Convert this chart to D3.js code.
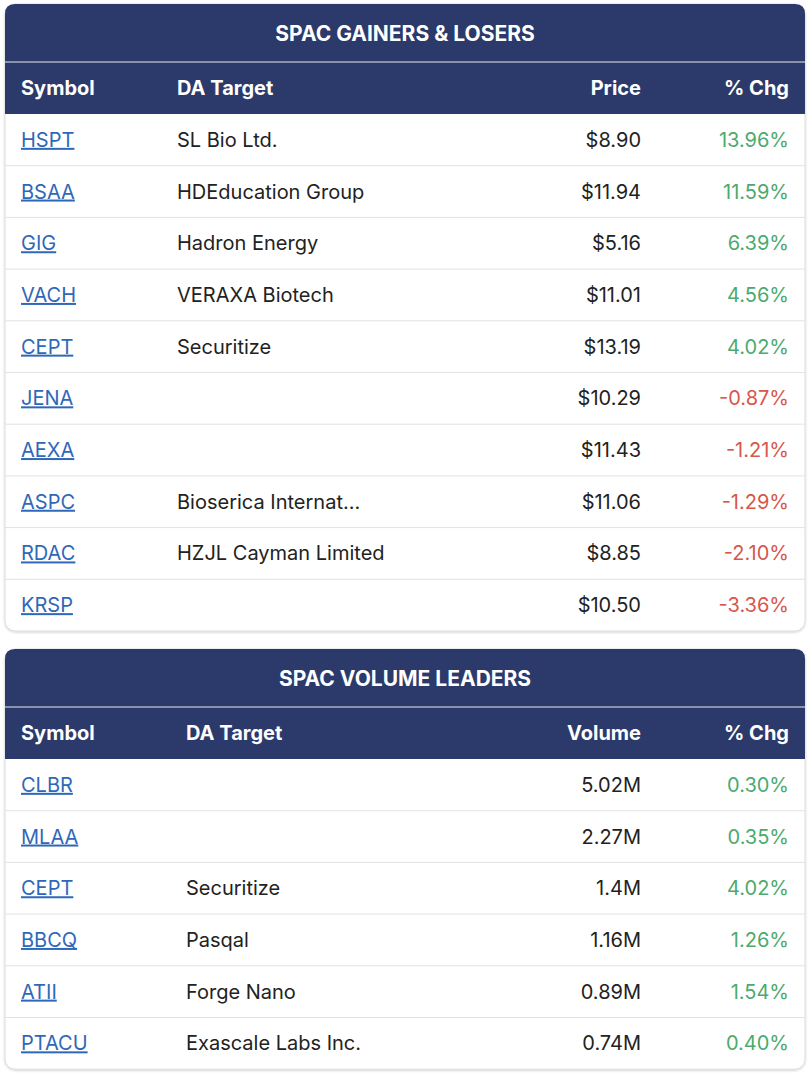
<!DOCTYPE html>
<html>
<head>
<meta charset="utf-8">
<script src="https://cdn.jsdelivr.net/npm/d3@7"></script>
<style>
  body { margin: 0; background: #fff; }
  svg { display: block; font-family: Inter, "Noto Sans", sans-serif; }
</style>
</head>
<body>
<svg></svg>
<script>
// gainers & losers
let gainSymbols = ['HSPT', 'BSAA', 'GIG', 'VACH', 'CEPT', 'JENA', 'AEXA', 'ASPC', 'RDAC', 'KRSP']
let gainTargets = ['SL Bio Ltd.', 'HDEducation Group', 'Hadron Energy', 'VERAXA Biotech', 'Securitize', '', '', 'Bioserica Internat...', 'HZJL Cayman Limited', '']
let gainPrices = [8.90, 11.94, 5.16, 11.01, 13.19, 10.29, 11.43, 11.06, 8.85, 10.50]
let gainChanges = [13.96, 11.59, 6.39, 4.56, 4.02, -0.87, -1.21, -1.29, -2.10, -3.36]

// volume leaders
let volSymbols = ['CLBR', 'MLAA', 'CEPT', 'BBCQ', 'ATII', 'PTACU']
let volTargets = ['', '', 'Securitize', 'Pasqal', 'Forge Nano', 'Exascale Labs Inc.']
let volVolumes = ['5.02M', '2.27M', '1.4M', '1.16M', '0.89M', '0.74M']
let volChanges = [0.30, 0.35, 4.02, 1.26, 1.54, 0.40]

let width = 810
let height = 1074
let left = 5
let right = 805
let titleH = 58
let headH = 52
let rowH = 51.7

let navy = '#2b3a6b'
let linkBlue = '#2f68b8'
let green = '#4caa6e'
let red = '#d6574b'

let svg = d3.select('svg').attr('width', width).attr('height', height)

let defs = svg.append('defs')
let shadow = defs.append('filter').attr('id', 'shadow').attr('x', '-5%').attr('y', '-5%').attr('width', '110%').attr('height', '110%')
shadow.append('feDropShadow').attr('dx', 0).attr('dy', 1).attr('stdDeviation', 1.2).attr('flood-color', '#000').attr('flood-opacity', 0.18)

drawTable = (top, title, cols, rows, id) => {
    let n = rows.length
    let bodyTop = top + titleH + headH
    let bottom = bodyTop + n * rowH

    let yScale = d3.scaleBand()
        .domain(d3.range(n))
        .range([bodyTop, bottom])

    let g = svg.append('g').attr('id', id)

    // card
    g.append('rect')
        .attr('x', left).attr('y', top)
        .attr('width', right - left).attr('height', bottom - top)
        .attr('rx', 10)
        .attr('fill', '#fff')
        .attr('stroke', '#dcdcdc')
        .attr('filter', 'url(#shadow)')

    // header band, rounded top only
    let r = 10
    g.append('path')
        .attr('d', 'M' + left + ',' + (bodyTop) + 'V' + (top + r) + 'Q' + left + ',' + top + ' ' + (left + r) + ',' + top +
            'H' + (right - r) + 'Q' + right + ',' + top + ' ' + right + ',' + (top + r) + 'V' + bodyTop + 'Z')
        .attr('fill', navy)

    g.append('line')
        .attr('x1', left).attr('x2', right)
        .attr('y1', top + titleH).attr('y2', top + titleH)
        .attr('stroke', '#e6e9f0').attr('stroke-width', 1)

    g.append('text')
        .attr('x', (left + right) / 2)
        .attr('y', top + titleH / 2 + 7.5)
        .attr('text-anchor', 'middle')
        .attr('fill', '#fff')
        .attr('font-size', 21)
        .attr('font-weight', 700)
        .text(title)

    g.selectAll('.colhead')
        .data(cols)
        .enter()
        .append('text')
        .attr('class', 'colhead')
        .attr('x', (c) => c.x)
        .attr('y', top + titleH + headH / 2 + 7)
        .attr('text-anchor', (c) => c.anchor)
        .attr('fill', '#fff')
        .attr('font-size', 20)
        .attr('font-weight', 700)
        .text((c) => c.name)

    // row separators
    g.selectAll('.sep')
        .data(d3.range(1, n))
        .enter()
        .append('line')
        .attr('class', 'sep')
        .attr('x1', left).attr('x2', right)
        .attr('y1', (i) => yScale(i)).attr('y2', (i) => yScale(i))
        .attr('stroke', '#e2e2e2')

    cols.forEach((c) => {
        g.selectAll('.cell-' + c.key)
            .data(rows)
            .enter()
            .append('text')
            .attr('x', c.x)
            .attr('y', (d, i) => yScale(i) + yScale.bandwidth() / 2 + 7)
            .attr('text-anchor', c.anchor)
            .attr('font-size', 20)
            .attr('fill', (d) => c.color ? c.color(d) : '#222')
            .attr('text-decoration', c.key == 'symbol' ? 'underline' : null)
            .text((d) => c.format(d))
    })
}

let pctFormat = (v) => (v < 0 ? '-' : '') + d3.format('.2f')(Math.abs(v)) + '%'
let chgColor = (v) => v < 0 ? red : green

let gainRows = gainSymbols.map((s, i) => ({ symbol: s, target: gainTargets[i], price: gainPrices[i], chg: gainChanges[i] }))
let volRows = volSymbols.map((s, i) => ({ symbol: s, target: volTargets[i], volume: volVolumes[i], chg: volChanges[i] }))

drawTable(4, 'SPAC GAINERS & LOSERS', [
    { key: 'symbol', name: 'Symbol', x: 21, anchor: 'start', format: (d) => d.symbol, color: () => linkBlue },
    { key: 'target', name: 'DA Target', x: 177, anchor: 'start', format: (d) => d.target },
    { key: 'price', name: 'Price', x: 641, anchor: 'end', format: (d) => '$' + d3.format('.2f')(d.price) },
    { key: 'chg', name: '% Chg', x: 789, anchor: 'end', format: (d) => pctFormat(d.chg), color: (d) => chgColor(d.chg) }
], gainRows, 'gainers')

drawTable(649, 'SPAC VOLUME LEADERS', [
    { key: 'symbol', name: 'Symbol', x: 21, anchor: 'start', format: (d) => d.symbol, color: () => linkBlue },
    { key: 'target', name: 'DA Target', x: 186, anchor: 'start', format: (d) => d.target },
    { key: 'volume', name: 'Volume', x: 641, anchor: 'end', format: (d) => d.volume },
    { key: 'chg', name: '% Chg', x: 789, anchor: 'end', format: (d) => pctFormat(d.chg), color: (d) => chgColor(d.chg) }
], volRows, 'volume')
</script>
</body>
</html>
